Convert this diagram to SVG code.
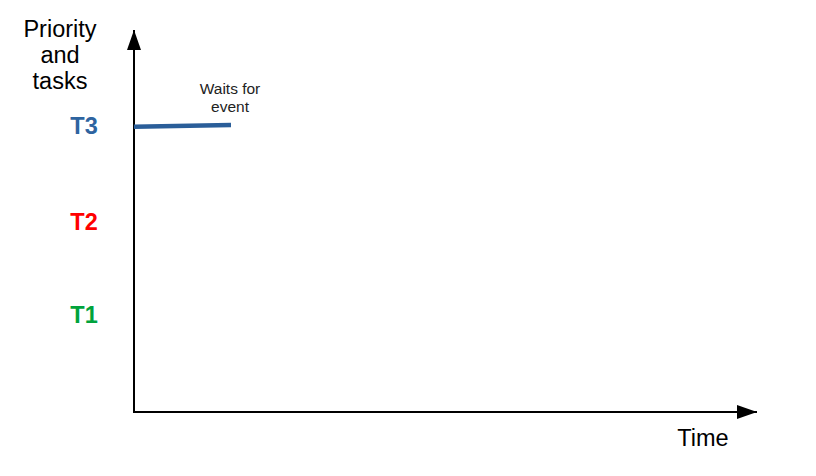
<svg xmlns="http://www.w3.org/2000/svg" width="816" height="476" viewBox="0 0 816 476">
<style>
.lbl{font-family:"Liberation Sans",Arial,sans-serif;fill:#000}
.big{font-size:23.5px}
.small{font-size:15.5px;fill:#222}
.task{font-family:"Liberation Sans",Arial,sans-serif;font-size:23.5px;font-weight:bold;text-anchor:middle}
.axis{stroke:#000;stroke-width:2;fill:none}
</style>
<defs>
<marker id="ah" viewBox="0 0 20 14" refX="20" refY="7" markerWidth="20" markerHeight="14" markerUnits="userSpaceOnUse" orient="auto">
<path d="M0,0 L20,7 L0,14 Z" fill="#000"/>
</marker>
</defs>
<rect width="816" height="476" fill="#fff"/>
<g id="connectors">
<line class="axis" x1="134" y1="413" x2="134" y2="30" marker-end="url(#ah)"/>
<line class="axis" x1="133" y1="412" x2="757" y2="412" marker-end="url(#ah)"/>
<line x1="134" y1="126.8" x2="231" y2="125" stroke="#2a5e99" stroke-width="4.5"/>
</g>
<g id="axis-label-y">
<text class="lbl big" text-anchor="middle" x="60" y="37">Priority</text>
<text class="lbl big" text-anchor="middle" x="60" y="63">and</text>
<text class="lbl big" text-anchor="middle" x="60" y="89">tasks</text>
</g>
<g id="t3"><text class="task" x="84" y="134" fill="#2e64a0">T3</text></g>
<g id="t2"><text class="task" x="84" y="230" fill="#ff0000">T2</text></g>
<g id="t1"><text class="task" x="84" y="323" fill="#00a33c">T1</text></g>
<g id="note">
<text class="lbl small" text-anchor="middle" x="230" y="94">Waits for</text>
<text class="lbl small" text-anchor="middle" x="230" y="112">event</text>
</g>
<g id="axis-label-x"><text class="lbl big" text-anchor="middle" x="703" y="446">Time</text></g>
</svg>
